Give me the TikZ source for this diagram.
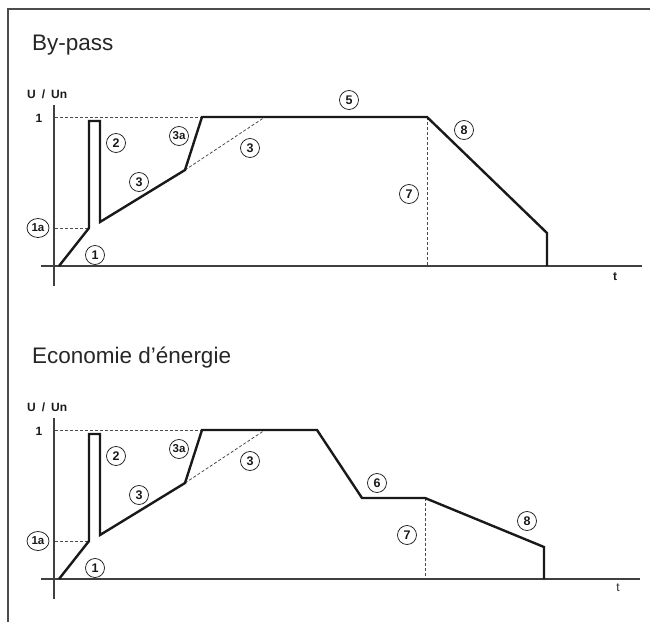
\documentclass[tikz,border=0pt]{standalone}
\usepackage{fontspec}
\setmainfont{Liberation Sans}
\usetikzlibrary{shapes.geometric}
\tikzset{
  curve/.style={line width=2.4pt, line join=miter, black!90},
  axis/.style={line width=1.1pt, black!75},
  guide/.style={line width=0.8pt, dash pattern=on 3pt off 2pt, black!70},
  frameline/.style={line width=1.5pt, black!70},
  num/.style={circle, draw, line width=0.75pt, minimum size=19pt, inner sep=0pt, black!90,
    font=\fontsize{12.5}{12.5}\selectfont\bfseries},
  numwide/.style={ellipse, draw, line width=0.75pt, minimum width=22pt, minimum height=19pt, inner sep=0pt, black!90,
    font=\fontsize{11.5}{11.5}\selectfont\bfseries},
  titletext/.style={font=\fontsize{22.5}{24}\selectfont, anchor=base west, inner sep=0pt, text=black!85},
  axlabel/.style={font=\fontsize{12}{12}\selectfont\bfseries, inner sep=0pt, black!90},
}
\begin{document}
\begin{tikzpicture}[x=1pt, y=-1pt]
\useasboundingbox (0,0) rectangle (650,622);
% frame
\coordinate (fl) at (8,622);
\coordinate (fc) at (8,9);
\coordinate (fr) at (650,9);
\draw[frameline] (fl) -- (fc) -- (fr);

% ---------- common chart part ----------
\newcommand\chartbase[1]{%
  \node[titletext] (title) at (32,50) {#1};
  \node[axlabel, anchor=west] (ulab) at (27,94) {U\hspace{0.5em}/\hspace{0.5em}Un};
  \coordinate (ytop) at (54,105);
  \coordinate (ybot) at (54,286);
  \coordinate (xl) at (41,266);
  \draw[axis] (ytop) -- (ybot);
  \node[axlabel] (one) at (39,118) {1};
  \coordinate (o) at (59,266);
  \coordinate (k1) at (89,228);
  \coordinate (p1) at (89,121);
  \coordinate (p2) at (100,121);
  \coordinate (p3) at (100,222);
  \coordinate (k3) at (185,170);
  \coordinate (k4) at (202,117);
  \coordinate (d1) at (55,117);
  \coordinate (d2) at (55,228);
  \coordinate (d3) at (265,117);
  \draw[guide] (d1) -- (k4);
  \draw[guide] (d2) -- (k1);
  \draw[guide] (k3) -- (d3);
  \node[num] (n1) at (95,255) {1};
  \node[numwide] (n1a) at (38,228) {1a};
  \node[num] (n2) at (116,143) {2};
  \node[num] (n3) at (139,182) {3};
  \node[num, font=\fontsize{11.5}{11.5}\selectfont\bfseries] (n3a) at (179,136) {3a};
  \node[num] (n3b) at (250,148) {3};
}

% ---------- By-pass ----------
\begin{scope}[name prefix=a-]
  \chartbase{By-pass}
  \coordinate (a-xr) at (642,266);
  \draw[axis] (a-xl) -- (a-xr);
  \coordinate (a-k5) at (427,117);
  \coordinate (a-k6) at (547,233);
  \coordinate (a-k7) at (547,266);
  \coordinate (a-b7) at (427,266);
  \draw[guide] (a-k5) -- (a-b7);
  \draw[curve] (a-o) -- (a-k1) -- (a-p1) -- (a-p2) -- (a-p3) -- (a-k3) -- (a-k4) -- (a-k5) -- (a-k6) -- (a-k7);
  \node[axlabel] (a-t) at (615,277) {t};
  \node[num] (a-n5) at (349,100) {5};
  \node[num] (a-n8) at (464,130) {8};
  \node[num] (a-n7) at (409,194) {7};
\end{scope}

% ---------- Economie d'energie ----------
\begin{scope}[yshift=-313pt, name prefix=b-]
  \chartbase{Economie d’énergie}
  \coordinate (b-xr) at (640,266);
  \draw[axis] (b-xl) -- (b-xr);
  \coordinate (b-k5) at (317,117);
  \coordinate (b-k6) at (362,185);
  \coordinate (b-k7) at (425,185);
  \coordinate (b-k8) at (544,234);
  \coordinate (b-k9) at (544,266);
  \coordinate (b-b7) at (425,266);
  \draw[guide] (b-k7) -- (b-b7);
  \draw[curve] (b-o) -- (b-k1) -- (b-p1) -- (b-p2) -- (b-p3) -- (b-k3) -- (b-k4) -- (b-k5) -- (b-k6) -- (b-k7) -- (b-k8) -- (b-k9);
  \node[font=\fontsize{12}{12}\selectfont, inner sep=0pt, black!85] (b-t) at (618,275) {t};
  \node[num] (b-n6) at (377,170) {6};
  \node[num] (b-n7) at (407,222) {7};
  \node[num] (b-n8) at (527,208) {8};
\end{scope}
\end{tikzpicture}
\end{document}
